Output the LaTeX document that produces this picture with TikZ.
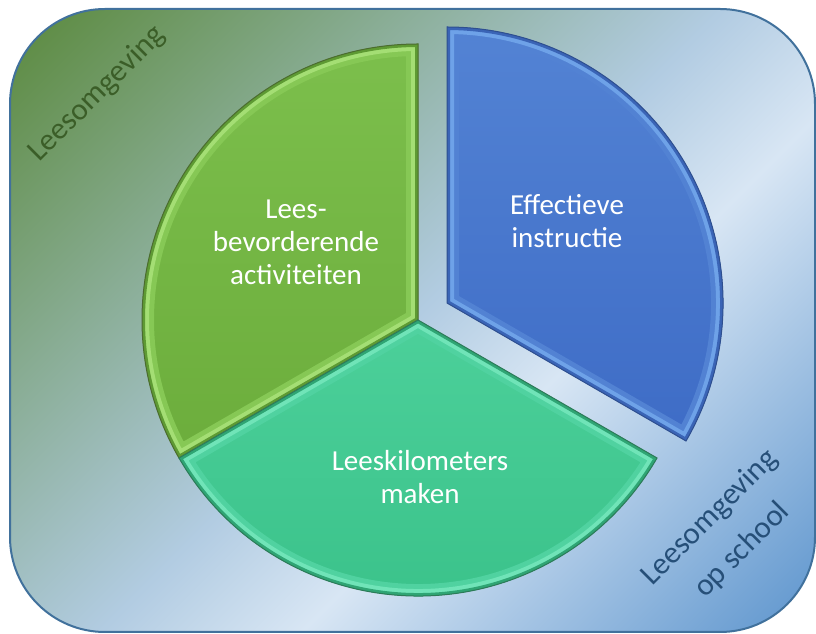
\documentclass[tikz,border=0pt]{standalone}
\usepackage{fontspec}
\setmainfont{Carlito}
\definecolor{bgA}{HTML}{5A893C}
\definecolor{bgM}{HTML}{B2CCE2}
\definecolor{bgB}{HTML}{D8E6F4}
\definecolor{bgC}{HTML}{5C94CD}
\definecolor{bordercol}{HTML}{41719C}
\definecolor{gTop}{HTML}{7CBF4C}
\definecolor{gBot}{HTML}{6CAD3C}
\definecolor{gBev}{HTML}{86C855}
\definecolor{gHi}{HTML}{A4DE74}
\definecolor{gRim}{HTML}{5E9A33}
\definecolor{gLine}{HTML}{4B6B30}
\definecolor{bTop}{HTML}{5383D4}
\definecolor{bBot}{HTML}{3E6CC6}
\definecolor{bBev}{HTML}{5282D3}
\definecolor{bHi}{HTML}{6EA2E8}
\definecolor{bRim}{HTML}{3A64B6}
\definecolor{bLine}{HTML}{2F4F8F}
\definecolor{tTop}{HTML}{4CD09A}
\definecolor{tBot}{HTML}{39C189}
\definecolor{tBev}{HTML}{50D2A0}
\definecolor{tHi}{HTML}{70E4B8}
\definecolor{tRim}{HTML}{2FA574}
\definecolor{tLine}{HTML}{2D7A58}
\definecolor{lblgreen}{HTML}{3B5E28}
\definecolor{lblblue}{HTML}{264F78}
\pgfdeclarehorizontalshading{bgshade}{100bp}{color(0bp)=(bgA); color(14.6bp)=(bgA); color(50bp)=(bgM); color(60bp)=(bgB); color(85.4bp)=(bgC); color(100bp)=(bgC)}
\tikzset{
  lbl/.style={text=white, align=center, font=\fontsize{29}{33}\selectfont, inner sep=0pt},
  cornerlbl/.style={align=center, rotate=45, font=\fontsize{31}{46}\selectfont, inner sep=0pt}
}
% #1 center, #2 start angle, #3 end angle, #4 prefix of colours
\newcommand\bevelslice[4]{%
  \begin{scope}
    \clip #1 -- ++(#2:276) arc[start angle=#2, end angle=#3, radius=276] -- cycle;
    \shade[top color=#4Top, bottom color=#4Bot] #1 -- ++(#2:276) arc[start angle=#2, end angle=#3, radius=276] -- cycle;
    \draw[#4Bev, line width=24pt] #1 -- ++(#2:276) arc[start angle=#2, end angle=#3, radius=276] -- cycle;
    \draw[#4Hi, line width=14pt] #1 -- ++(#2:276) arc[start angle=#2, end angle=#3, radius=276] -- cycle;
    \draw[#4Rim, line width=6pt] #1 -- ++(#2:276) arc[start angle=#2, end angle=#3, radius=276] -- cycle;
  \end{scope}
  \draw[#4Line, line width=1pt] #1 -- ++(#2:276) arc[start angle=#2, end angle=#3, radius=276] -- cycle;
}
\begin{document}
\begin{tikzpicture}[x=1pt,y=1pt]
\useasboundingbox (0,0) rectangle (816,634);
\shade[shading=bgshade, shading angle=-45, rounded corners=95pt] (10,2) rectangle (815,625);
\draw[bordercol, line width=2pt, rounded corners=95pt] (10,2) rectangle (815,625);
\bevelslice{(418,314)}{90}{210}{g}
\bevelslice{(418,314)}{210}{330}{t}
\bevelslice{(447,331)}{-30}{90}{b}
\node[lbl] (t1) at (296,392) {Lees-\\bevorderende\\activiteiten};
\node[lbl] (t2) at (567,413) {Effectieve\\instructie};
\node[lbl] (t3) at (420,157) {Leeskilometers\\maken};
\node[cornerlbl, text=lblgreen] (t4) at (97,540) {Leesomgeving};
\node[cornerlbl, text=lblblue] (t5) at (726,100) {Leesomgeving\\op school};
\end{tikzpicture}
\end{document}
